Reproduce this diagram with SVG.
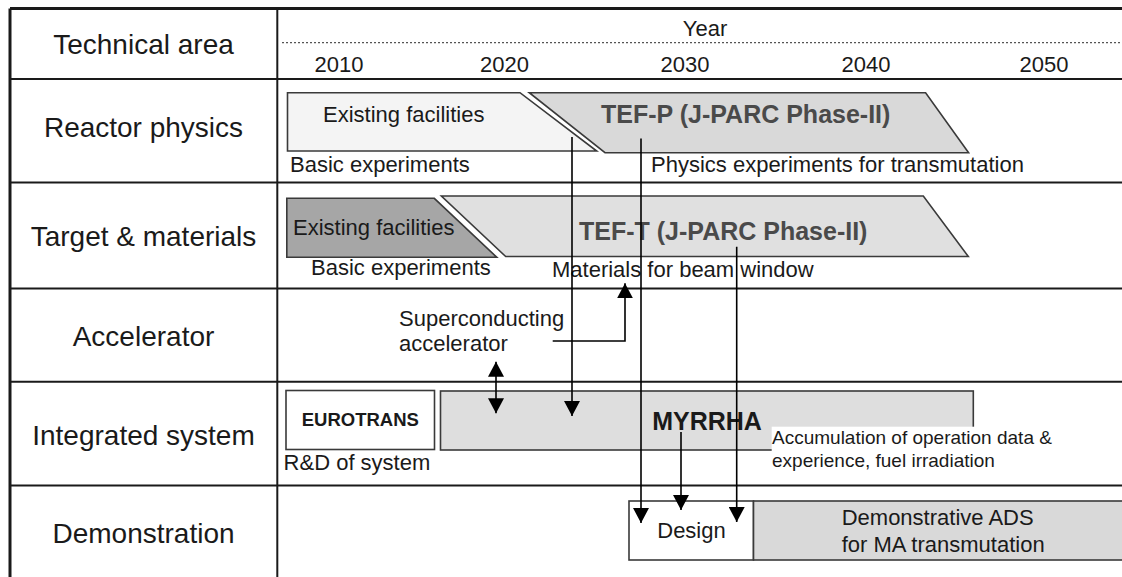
<svg xmlns="http://www.w3.org/2000/svg" width="1122" height="577" viewBox="0 0 1122 577">
<defs>
<style>
text{font-family:"Liberation Sans",Arial,sans-serif;fill:#1a1a1a}
.lbl{font-size:28px;text-anchor:middle}
.yr{font-size:22px;text-anchor:middle}
.t22{font-size:22px}
.t19{font-size:19px}
.big{font-size:25px;font-weight:bold;fill:#4a4a4a}
.grid{stroke:#1a1a1a;stroke-width:2;fill:none}
.box{stroke:#3a3a3a;stroke-width:1.6}
.conn{stroke:#000;stroke-width:1.6;fill:none}
</style>
<marker id="ah" viewBox="0 0 15 16" refX="15" refY="8" markerWidth="15" markerHeight="16" markerUnits="userSpaceOnUse" orient="auto-start-reverse">
<path d="M0,0 L15,8 L0,16 z" fill="#000"/>
</marker>
</defs>
<rect x="0" y="0" width="1122" height="577" fill="#fff"/>

<g id="grid">
<line x1="10" y1="8.5" x2="1122" y2="8.5" stroke="#1a1a1a" stroke-width="3"/>
<line x1="10" y1="8.5" x2="10" y2="577" stroke="#1a1a1a" stroke-width="3"/>
<line class="grid" x1="277.3" y1="8.5" x2="277.3" y2="577"/>
<line class="grid" x1="10" y1="79" x2="1122" y2="79"/>
<line class="grid" x1="10" y1="182.5" x2="1122" y2="182.5"/>
<line class="grid" x1="10" y1="288.5" x2="1122" y2="288.5"/>
<line class="grid" x1="10" y1="381.7" x2="1122" y2="381.7"/>
<line class="grid" x1="10" y1="485.5" x2="1122" y2="485.5"/>
<line x1="282" y1="42.7" x2="1122" y2="42.7" stroke="#555" stroke-width="1.2" stroke-dasharray="2,2"/>
</g>

<g id="header">
<text class="lbl" x="143.5" y="54.3">Technical area</text>
<text class="yr" x="705" y="36">Year</text>
<text class="yr" x="339" y="71.7">2010</text>
<text class="yr" x="504.5" y="71.7">2020</text>
<text class="yr" x="685" y="71.7">2030</text>
<text class="yr" x="866" y="71.7">2040</text>
<text class="yr" x="1044" y="71.7">2050</text>
</g>

<g id="row-labels">
<text class="lbl" x="143.5" y="136.7">Reactor physics</text>
<text class="lbl" x="143.5" y="245.7">Target &amp; materials</text>
<text class="lbl" x="143.5" y="345.7">Accelerator</text>
<text class="lbl" x="143.5" y="445">Integrated system</text>
<text class="lbl" x="143.5" y="542.7">Demonstration</text>
</g>

<g id="rp-existing">
<polygon class="box" points="287.5,92.7 520,92.7 596.7,151 287.5,151" fill="#f4f4f4"/>
<text class="t22" x="323" y="121.7">Existing facilities</text>
<text class="t22" x="290" y="171.7">Basic experiments</text>
</g>

<g id="rp-tefp">
<polygon class="box" points="529.3,92.7 925.6,92.7 968.6,152.7 605,152.7" fill="#d9d9d9"/>
<text class="big" x="601" y="123.3">TEF-P (J-PARC Phase-II)</text>
<text class="t22" x="651" y="171.7">Physics experiments for transmutation</text>
</g>

<g id="tm-existing">
<polygon class="box" points="286.8,198.3 434.3,198.3 496.8,257.3 286.8,257.3" fill="#a6a6a6"/>
<text class="t22" x="293" y="235">Existing facilities</text>
<text class="t22" x="311" y="275">Basic experiments</text>
</g>

<g id="tm-teft">
<polygon class="box" points="441.4,196 923.3,196 968.3,256.5 505.7,256.5" fill="#e0e0e0"/>
<text class="big" x="579" y="240">TEF-T (J-PARC Phase-II)</text>
<text class="t22" x="552" y="276.7">Materials for beam window</text>
</g>

<g id="acc-sc">
<text class="t22" x="399" y="325.5">Superconducting</text>
<text class="t22" x="399" y="350.7">accelerator</text>
</g>

<g id="is-eurotrans">
<rect class="box" x="286" y="390.5" width="148.5" height="59" fill="#fff"/>
<text x="360.3" y="426" font-size="18.5" font-weight="bold" text-anchor="middle" fill="#222">EUROTRANS</text>
<text class="t22" x="283.6" y="470">R&amp;D of system</text>
</g>

<g id="is-myrrha">
<rect class="box" x="440.5" y="391" width="532.8" height="59" fill="#dedede"/>
<rect x="771.7" y="426.7" width="292" height="46" fill="#fff"/>
<text x="707" y="430" font-size="25" font-weight="bold" text-anchor="middle" fill="#333">MYRRHA</text>
<text class="t19" x="772" y="444">Accumulation of operation data &amp;</text>
<text class="t19" x="772" y="467.3">experience, fuel irradiation</text>
</g>

<g id="demo-design">
<rect class="box" x="629" y="501" width="124.5" height="59" fill="#fff"/>
<text class="t22" x="691.5" y="538" text-anchor="middle">Design</text>
</g>

<g id="demo-ads">
<rect class="box" x="753.5" y="501" width="372" height="59" fill="#d9d9d9"/>
<text class="t22" x="841.7" y="525">Demonstrative ADS</text>
<text class="t22" x="841.7" y="551.7">for MA transmutation</text>
</g>

<g id="connectors">
<line class="conn" x1="572" y1="137" x2="572" y2="416" marker-end="url(#ah)"/>
<line class="conn" x1="641" y1="138.5" x2="641" y2="523" marker-end="url(#ah)"/>
<line class="conn" x1="736.7" y1="246.7" x2="736.7" y2="522" marker-end="url(#ah)"/>
<line class="conn" x1="681" y1="432" x2="681" y2="510" marker-end="url(#ah)"/>
<line class="conn" x1="496" y1="361.7" x2="496" y2="413.3" marker-start="url(#ah)" marker-end="url(#ah)"/>
<polyline class="conn" points="552.7,341 625,341 625,283.3" marker-end="url(#ah)"/>
</g>
</svg>
